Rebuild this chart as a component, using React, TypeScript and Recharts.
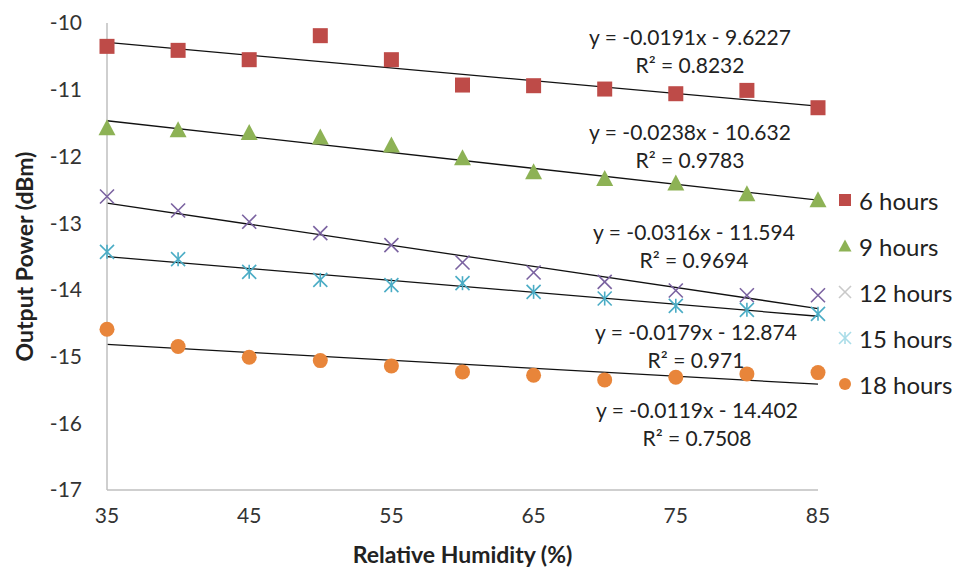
import React from 'react'
import { ScatterChart, Scatter, XAxis, YAxis, ReferenceLine, Label } from 'recharts'

if (typeof document !== 'undefined') document.body.style.margin = '0'

// relative humidity (%) on x
const humidity = [35, 40, 45, 50, 55, 60, 65, 70, 75, 80, 85]

// output power (dBm)
const hours6 = [-10.35, -10.41, -10.55, -10.19, -10.55, -10.93, -10.94, -10.99, -11.06, -11.01, -11.27]
const hours9 = [-11.57, -11.60, -11.64, -11.71, -11.83, -12.02, -12.23, -12.33, -12.40, -12.56, -12.65]
const hours12 = [-12.60, -12.81, -12.98, -13.15, -13.33, -13.59, -13.74, -13.88, -14.01, -14.08, -14.08]
const hours15 = [-13.43, -13.54, -13.73, -13.85, -13.93, -13.90, -14.03, -14.13, -14.24, -14.30, -14.36]
const hours18 = [-14.59, -14.85, -15.01, -15.06, -15.14, -15.23, -15.28, -15.35, -15.31, -15.26, -15.24]

const seriesNames = ['6 hours', '9 hours', '12 hours', '15 hours', '18 hours']

// linear trendlines as printed on the chart
const slopes = [-0.0191, -0.0238, -0.0316, -0.0179, -0.0119]
const intercepts = [-9.6227, -10.632, -11.594, -12.874, -14.402]
const equations = [
  'y = -0.0191x - 9.6227',
  'y = -0.0238x - 10.632',
  'y = -0.0316x - 11.594',
  'y = -0.0179x - 12.874',
  'y = -0.0119x - 14.402',
]
const rSquared = ['R² = 0.8232', 'R² = 0.9783', 'R² = 0.9694', 'R² = 0.971', 'R² = 0.7508']

const xTicks = [35, 45, 55, 65, 75, 85]
const yTicks = [-17, -16, -15, -14, -13, -12, -11, -10]

const FONT = 'Lato, "Open Sans", sans-serif'
const W = 960
const H = 575

// where the equation boxes sit (centre x, first line y)
const eqPos = [
  { x: 690, y: 37 },
  { x: 690, y: 132 },
  { x: 694, y: 232 },
  { x: 696, y: 332 },
  { x: 697, y: 410 },
]

const colors = ['#BE4B48', '#8DB255', '#7A62A0', '#4AACC5', '#E8853A']

const toPoints = (ys: number[]) => humidity.map((x, i) => ({ x, y: ys[i] }))

const SquareMark = ({ cx, cy, s = 15, fill = colors[0] }: any) => (
  <rect x={cx - s / 2} y={cy - s / 2} width={s} height={s} fill={fill} />
)
const TriangleMark = ({ cx, cy, s = 17, fill = colors[1] }: any) => (
  <polygon points={`${cx},${cy - s / 2} ${cx + s / 2},${cy + s / 2 - 1} ${cx - s / 2},${cy + s / 2 - 1}`} fill={fill} />
)
const XMark = ({ cx, cy, s = 14, stroke = colors[2] }: any) => (
  <g stroke={stroke} strokeWidth={1.6}>
    <line x1={cx - s / 2} y1={cy - s / 2} x2={cx + s / 2} y2={cy + s / 2} />
    <line x1={cx - s / 2} y1={cy + s / 2} x2={cx + s / 2} y2={cy - s / 2} />
  </g>
)
const StarMark = ({ cx, cy, s = 14, stroke = colors[3] }: any) => (
  <g stroke={stroke} strokeWidth={1.6}>
    <line x1={cx - s / 2} y1={cy - s / 2} x2={cx + s / 2} y2={cy + s / 2} />
    <line x1={cx - s / 2} y1={cy + s / 2} x2={cx + s / 2} y2={cy - s / 2} />
    <line x1={cx} y1={cy - s / 2} x2={cx} y2={cy + s / 2} />
  </g>
)
const CircleMark = ({ cx, cy, s = 15, fill = colors[4] }: any) => (
  <circle cx={cx} cy={cy} r={s / 2} fill={fill} />
)

const shapes = [SquareMark, TriangleMark, XMark, StarMark, CircleMark]
const seriesData = [hours6, hours9, hours12, hours15, hours18]

// legend markers (Excel drew the 12h / 15h ones washed out)
const legendMarks = [
  <SquareMark cx={10} cy={10} s={12} />,
  <TriangleMark cx={10} cy={10} s={13} />,
  <XMark cx={10} cy={10} s={12} stroke="#C9C9C9" />,
  <StarMark cx={10} cy={10} s={12} stroke="#A9DCE8" />,
  <CircleMark cx={10} cy={10} s={12} />,
]

const YTitle = ({ viewBox }: any) => (
  <text
    x={24}
    y={viewBox.y + viewBox.height / 2}
    transform={`rotate(-90, 24, ${viewBox.y + viewBox.height / 2})`}
    textAnchor="middle"
    dominantBaseline="central"
    fontFamily={FONT}
    fontWeight={700}
    fontSize={23}
    fill="#222"
  >
    Output Power (dBm)
  </text>
)

export default function App() {
  return (
    <div style={{ position: 'relative', width: W, height: H, background: '#fff', fontFamily: FONT }}>
      <ScatterChart width={W} height={H} margin={{ top: 23, right: 142, bottom: 0, left: 0 }}>
        <XAxis
          type="number"
          dataKey="x"
          domain={[35, 85]}
          ticks={xTicks}
          tickLine={false}
          axisLine={{ stroke: '#BFBFBF', strokeWidth: 1.5 }}
          tick={{ fontFamily: FONT, fontSize: 21, fill: '#333' }}
          tickMargin={12}
          height={85}
        >
          <Label
            value="Relative Humidity (%)"
            position="insideBottom"
            offset={12}
            style={{ fontFamily: FONT, fontWeight: 700, fontSize: 23, fill: '#222' }}
          />
        </XAxis>
        <YAxis
          type="number"
          dataKey="y"
          domain={[-17, -10]}
          ticks={yTicks}
          tickLine={false}
          axisLine={{ stroke: '#BFBFBF', strokeWidth: 1.5 }}
          tick={{ fontFamily: FONT, fontSize: 21, fill: '#333' }}
          tickMargin={19}
          width={107}
        >
          <Label content={YTitle} />
        </YAxis>
        {slopes.map((m, i) => (
          <ReferenceLine
            key={'t' + i}
            segment={[
              { x: 35, y: m * 35 + intercepts[i] },
              { x: 85, y: m * 85 + intercepts[i] },
            ]}
            stroke="#111"
            strokeWidth={1.3}
            ifOverflow="visible"
          />
        ))}
        {seriesData.map((ys, i) => (
          <Scatter
            key={seriesNames[i]}
            name={seriesNames[i]}
            data={toPoints(ys)}
            shape={shapes[i]}
            isAnimationActive={false}
          />
        ))}
      </ScatterChart>

      {equations.map((eq, i) => (
        <div
          key={'eq' + i}
          style={{
            position: 'absolute',
            left: eqPos[i].x - 150,
            top: eqPos[i].y - 14,
            width: 300,
            textAlign: 'center',
            fontSize: 21,
            lineHeight: '28px',
            color: '#222',
            whiteSpace: 'nowrap',
          }}
        >
          <div>{eq}</div>
          <div>{rSquared[i]}</div>
        </div>
      ))}

      <div style={{ position: 'absolute', left: 835, top: 177 }}>
        {seriesNames.map((name, i) => (
          <div key={name} style={{ display: 'flex', alignItems: 'center', height: 46 }}>
            <svg width={20} height={20} style={{ marginRight: 4 }}>
              {legendMarks[i]}
            </svg>
            <span style={{ fontSize: 24, color: '#222' }}>{name}</span>
          </div>
        ))}
      </div>
    </div>
  )
}
